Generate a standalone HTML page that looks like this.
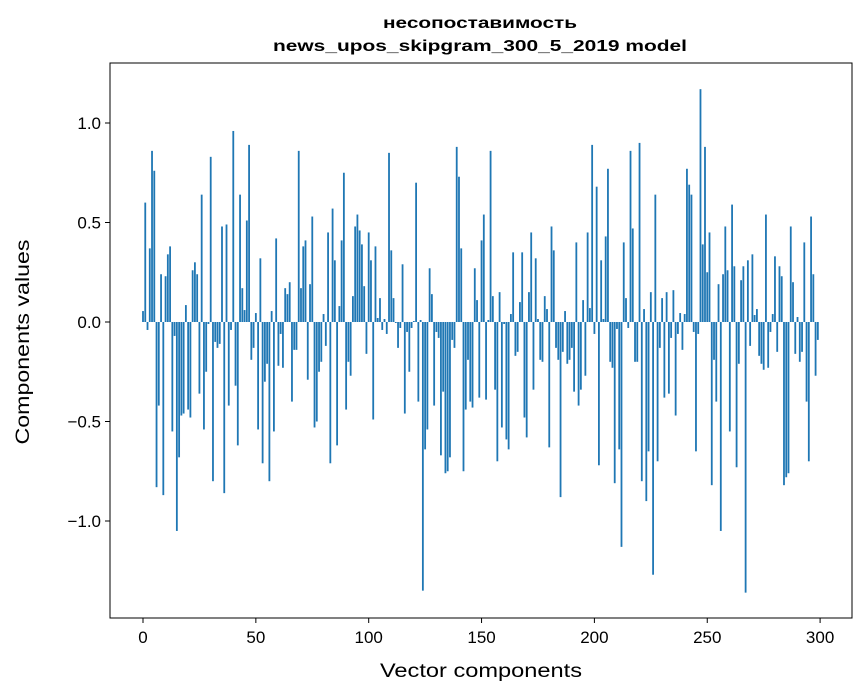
<!DOCTYPE html>
<html><head><meta charset="utf-8"><style>
body{margin:0;background:#fff;}
svg{display:block;font-family:"Liberation Sans","DejaVu Sans",sans-serif;}
</style></head><body>
<svg id="chart" width="867" height="696">
<rect width="867" height="696" fill="#fff"/>
<text x="480" y="28" text-anchor="middle" font-size="16" font-weight="bold" textLength="194" lengthAdjust="spacingAndGlyphs">несопоставимость</text>
<text x="480" y="51" text-anchor="middle" font-size="16" font-weight="bold" textLength="414" lengthAdjust="spacingAndGlyphs">news_upos_skipgram_300_5_2019 model</text>
<g id="bars"></g>
<g id="xticks"></g>
<g id="yticks"></g>
<rect x="110" y="63" width="742" height="555" fill="none" stroke="#000" stroke-width="1"/>
<text x="481" y="677" text-anchor="middle" font-size="19" textLength="202" lengthAdjust="spacingAndGlyphs">Vector components</text>
<text transform="translate(29,342) rotate(-90)" text-anchor="middle" font-size="19" textLength="205" lengthAdjust="spacingAndGlyphs">Components values</text>
</svg>
<script>
const values = [
0.055,0.60,-0.04,0.37,0.86,0.76,-0.83,-0.42,0.24,-0.87,
0.23,0.34,0.38,-0.55,-0.07,-1.05,-0.68,-0.47,-0.46,0.085,
-0.44,-0.48,0.26,0.30,0.24,-0.36,0.64,-0.54,-0.25,-0.01,
0.83,-0.80,-0.10,-0.13,-0.11,0.48,-0.86,0.49,-0.42,-0.04,
0.96,-0.32,-0.62,0.64,0.17,0.06,0.51,0.89,-0.19,-0.13,
0.045,-0.54,0.32,-0.71,-0.30,-0.21,-0.80,0.055,-0.55,0.42,
-0.22,-0.06,-0.23,0.17,0.14,0.20,-0.40,-0.14,-0.14,0.86,
0.17,0.38,0.41,-0.29,0.19,0.53,-0.53,-0.50,-0.25,-0.20,
0.04,-0.12,0.45,-0.71,0.57,0.31,-0.62,0.08,0.41,0.75,
-0.44,-0.20,-0.27,0.13,0.48,0.54,0.46,0.39,0.18,-0.16,
0.45,0.31,-0.49,0.38,0.02,0.12,-0.04,0.015,-0.06,0.85,
0.36,0.12,-0.005,-0.13,-0.03,0.29,-0.46,-0.05,-0.25,-0.03,
0.005,0.70,-0.40,0.01,-1.35,-0.64,-0.54,0.27,0.14,-0.42,
-0.05,-0.08,-0.67,-0.35,-0.76,-0.75,-0.68,-0.09,-0.13,0.88,
0.73,0.37,-0.75,-0.44,-0.19,-0.40,-0.43,0.27,0.11,-0.38,
0.41,0.54,-0.39,0.01,0.86,0.13,-0.34,-0.70,0.15,-0.53,
-0.01,-0.59,-0.64,0.04,0.35,-0.17,-0.15,0.10,0.35,-0.48,
-0.58,0.15,0.45,-0.34,0.32,0.015,-0.19,-0.20,0.13,0.065,
-0.63,0.48,0.36,-0.13,-0.19,-0.88,-0.15,0.055,-0.21,-0.19,
-0.13,-0.35,0.40,-0.42,-0.34,0.11,-0.27,0.45,0.07,0.89,
-0.06,0.68,-0.72,0.31,0.015,0.43,0.77,-0.20,-0.23,-0.81,
-0.035,-0.64,-1.13,0.40,0.12,-0.03,0.86,0.47,-0.20,-0.20,
0.90,-0.80,0.065,-0.90,-0.65,0.15,-1.27,0.64,-0.70,-0.13,
0.12,-0.38,0.15,-0.36,-0.08,0.16,-0.47,-0.06,0.045,-0.14,
0.04,0.77,0.69,0.64,-0.05,-0.65,-0.06,1.17,0.39,0.88,
0.25,0.45,-0.82,-0.19,-0.40,0.19,-1.05,0.24,0.48,0.26,
-0.55,0.59,0.28,-0.73,-0.21,0.21,0.28,-1.36,0.31,-0.12,
0.34,0.035,0.065,-0.17,-0.21,-0.24,0.54,-0.23,-0.05,0.04,
0.33,-0.15,0.28,0.23,-0.82,-0.78,-0.76,0.48,0.20,-0.16,
0.025,-0.20,-0.15,0.40,-0.40,-0.70,0.53,0.24,-0.27,-0.09
];
const xTickValues = [0,50,100,150,200,250,300];
const yTickValues = [-1.0,-0.5,0.0,0.5,1.0];
const yTickLabels = ["\u22121.0","\u22120.5","0.0","0.5","1.0"];

const NS="http://www.w3.org/2000/svg";
function xScale(v){return 143+v*2.257;}
function yScale(v){return 322-v*199;}
const bars=document.getElementById('bars');
values.forEach((v,i)=>{
  const r=document.createElementNS(NS,'rect');
  const w=0.8*2.257;
  r.setAttribute('x',xScale(i)-w/2);
  r.setAttribute('width',w);
  r.setAttribute('y',Math.min(yScale(v),yScale(0)));
  r.setAttribute('height',Math.abs(yScale(v)-yScale(0)));
  r.setAttribute('fill','#1f77b4');
  
  
  bars.appendChild(r);
});
const xt=document.getElementById('xticks');
xTickValues.forEach(v=>{
  const x=xScale(v);
  const l=document.createElementNS(NS,'line');
  l.setAttribute('x1',x);l.setAttribute('x2',x);l.setAttribute('y1',618);l.setAttribute('y2',623);
  l.setAttribute('stroke','#000');
  
  
  xt.appendChild(l);
  const t=document.createElementNS(NS,'text');
  t.setAttribute('x',x);t.setAttribute('y',643);t.setAttribute('text-anchor','middle');t.setAttribute('font-size','17');
  t.textContent=v;
  
  
  xt.appendChild(t);
});
const yt=document.getElementById('yticks');
yTickValues.forEach((v,i)=>{
  const y=yScale(v);
  const l=document.createElementNS(NS,'line');
  l.setAttribute('x1',105);l.setAttribute('x2',110);l.setAttribute('y1',y);l.setAttribute('y2',y);
  l.setAttribute('stroke','#000');
  
  
  yt.appendChild(l);
  const t=document.createElementNS(NS,'text');
  t.setAttribute('x',101);t.setAttribute('y',y+6);t.setAttribute('text-anchor','end');t.setAttribute('font-size','17');
  t.textContent=yTickLabels[i];
  
  
  yt.appendChild(t);
});
</script>
</body></html>
